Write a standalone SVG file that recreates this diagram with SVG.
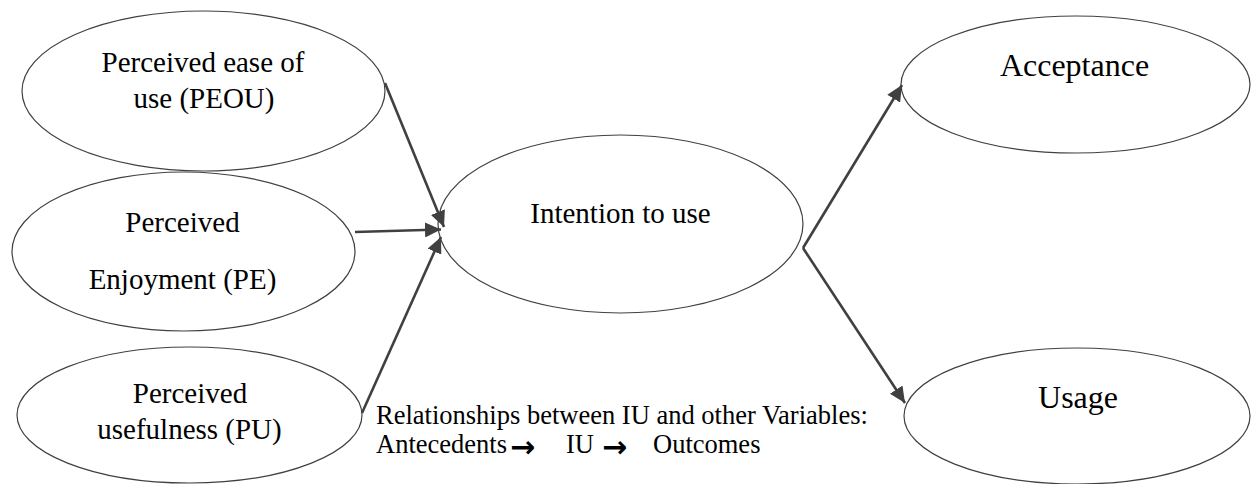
<svg xmlns="http://www.w3.org/2000/svg" width="1254" height="484" viewBox="0 0 1254 484">
<style>
.node ellipse{fill:#fff;stroke:#404040;stroke-width:1.2}
.t{font-family:"Liberation Serif","Times New Roman",serif;font-size:29px;fill:#000;text-anchor:middle}
.big{font-size:32px}
.note{font-family:"Liberation Serif","Times New Roman",serif;font-size:26.5px;fill:#000}
.arr{font-family:"DejaVu Sans",sans-serif;font-size:30px;font-weight:bold;fill:#000}
.conn line{stroke:#404040;stroke-width:2.6;fill:none;marker-end:url(#ah)}
</style>
<defs>
<marker id="ah" markerUnits="userSpaceOnUse" markerWidth="16" markerHeight="15" refX="16" refY="7.5" orient="auto">
<path d="M0,0 L16,7.5 L0,15 z" fill="#404040"/>
</marker>
</defs>
<g id="peou" class="node">
<ellipse cx="203.5" cy="91" rx="181.5" ry="80"/>
<text class="t" x="203" y="72">Perceived ease of</text>
<text class="t" x="204" y="108">use (PEOU)</text>
</g>
<g id="pe" class="node">
<ellipse cx="183.5" cy="251.5" rx="171.5" ry="79.5"/>
<text class="t" x="182.5" y="232">Perceived</text>
<text class="t" x="182.5" y="289">Enjoyment (PE)</text>
</g>
<g id="pu" class="node">
<ellipse cx="189.5" cy="415" rx="172.5" ry="68"/>
<text class="t" x="190" y="403">Perceived</text>
<text class="t" x="189.5" y="439">usefulness (PU)</text>
</g>
<g id="iu" class="node">
<ellipse cx="620.5" cy="224" rx="182.5" ry="89"/>
<text class="t" x="620.5" y="223">Intention to use</text>
</g>
<g id="acceptance" class="node">
<ellipse cx="1075.5" cy="84.5" rx="174.5" ry="68.5"/>
<text class="t big" x="1074.5" y="76">Acceptance</text>
</g>
<g id="usage" class="node">
<ellipse cx="1077" cy="416" rx="173" ry="68"/>
<text class="t big" x="1078" y="408">Usage</text>
</g>
<g id="connectors" class="conn">
<line x1="385" y1="83" x2="444" y2="227"/>
<line x1="355" y1="232" x2="441" y2="229.5"/>
<line x1="362" y1="413" x2="441" y2="237"/>
<line x1="803" y1="248" x2="902" y2="85"/>
<line x1="803" y1="248" x2="905" y2="403"/>
</g>
<g id="note">
<text class="note" x="376" y="424">Relationships between IU and other Variables:</text>
<text class="note" x="376" y="453">Antecedents</text>
<text class="arr" x="510" y="457">→</text>
<text class="note" x="566" y="453">IU</text>
<text class="arr" x="602" y="457">→</text>
<text class="note" x="653" y="453">Outcomes</text>
</g>
</svg>
